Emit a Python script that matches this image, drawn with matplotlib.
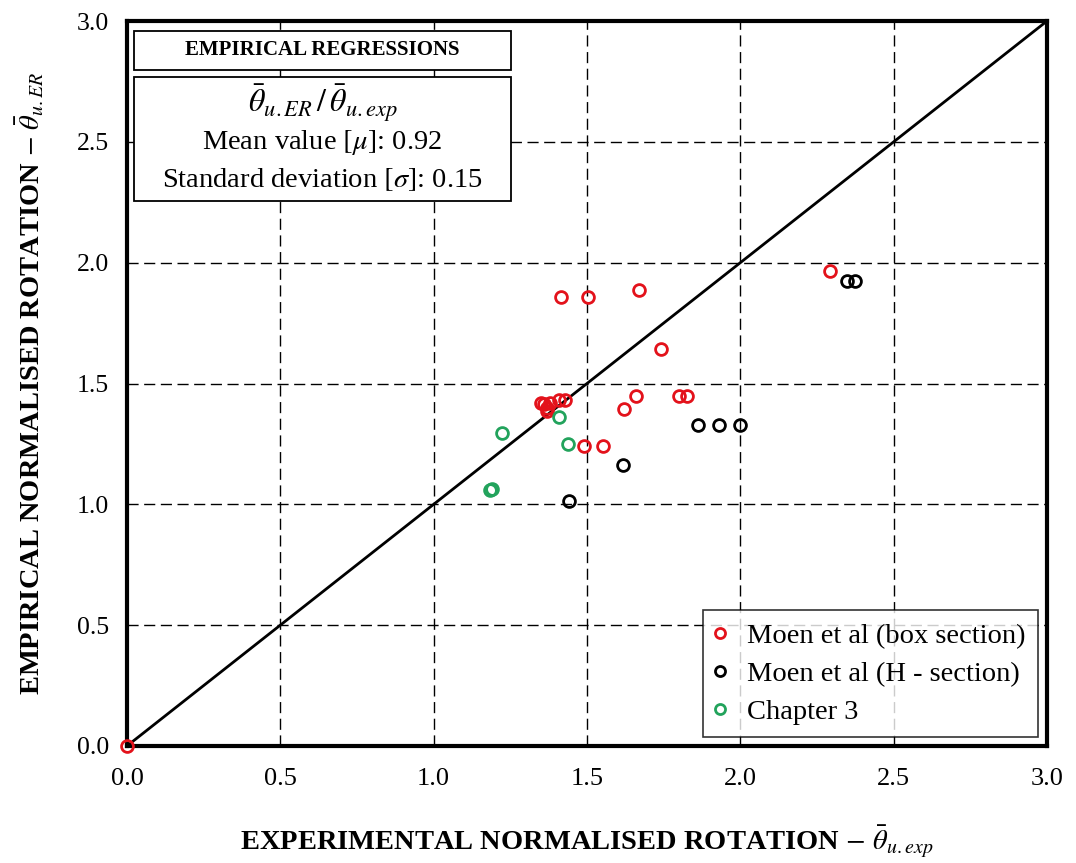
import matplotlib
matplotlib.use("Agg")
import matplotlib.pyplot as plt
from matplotlib.patches import Rectangle

plt.rcParams['font.family'] = ['Liberation Serif', 'DejaVu Serif']
plt.rcParams['mathtext.fontset'] = 'stix'

# Moen et al (box section)
box_x = [0.0, 1.415, 1.503, 1.670, 1.741, 1.660, 1.621, 1.800, 1.825,
         1.490, 1.553, 1.35, 1.36, 1.37, 1.38, 1.41, 1.43, 1.37, 2.293]
box_y = [0.0, 1.858, 1.858, 1.887, 1.643, 1.448, 1.394, 1.448, 1.448,
         1.240, 1.240, 1.420, 1.415, 1.400, 1.420, 1.432, 1.432, 1.385, 1.966]

# Moen et al (H - section)
h_x = [2.347, 2.374, 1.863, 1.931, 1.999, 1.619, 1.443]
h_y = [1.925, 1.925, 1.328, 1.328, 1.328, 1.163, 1.014]

# Chapter 3
ch3_x = [1.222, 1.410, 1.437, 1.184, 1.190]
ch3_y = [1.294, 1.360, 1.248, 1.059, 1.063]

ticks = [0.0, 0.5, 1.0, 1.5, 2.0, 2.5, 3.0]
mean_ratio = 0.92
std_ratio = 0.15

W, H = 1076, 863
AX_L, AX_B, AX_W, AX_H = 0.118, 0.1356, 0.855, 0.840

fig = plt.figure(figsize=(W / 100, H / 100), dpi=100)
ax = fig.add_axes([AX_L, AX_B, AX_W, AX_H])

ax.set_xlim(0, 3)
ax.set_ylim(0, 3)
ax.set_xticks(ticks)
ax.set_yticks(ticks)
ax.set_xticklabels([f"{t:.1f}" for t in ticks], fontsize=19)
ax.set_yticklabels([f"{t:.1f}" for t in ticks], fontsize=18.5)
ax.tick_params(axis='x', direction='in', length=0, pad=16)
ax.tick_params(axis='y', direction='in', length=0, pad=13)
ax.grid(True, color='black', linestyle=(0, (8, 4)), linewidth=1.0)
for s in ax.spines.values():
    s.set_linewidth(3)

ax.plot([0, 3], [0, 3], color='black', linewidth=2, zorder=2)

mk = dict(marker='o', linestyle='none', markersize=8.5, markeredgewidth=2,
          markerfacecolor='none', zorder=3, clip_on=False)
ax.plot(box_x, box_y, markeredgecolor='#e3121b', label='Moen et al (box section)', **mk)
ax.plot(h_x, h_y, markeredgecolor='black', label='Moen et al (H - section)', **mk)
ax.plot(ch3_x, ch3_y, markeredgecolor='#22a35c', label='Chapter 3', **mk)

leg = ax.legend(loc='lower right', fontsize=20.5, frameon=True, fancybox=False,
                edgecolor='black', borderaxespad=0.3, borderpad=0.45,
                handletextpad=0.8, labelspacing=0.42, handlelength=0.3,
                markerscale=0.85)
leg.get_frame().set_linewidth(1.2)

ax.set_xlabel(r'EXPERIMENTAL NORMALISED ROTATION $-$ $\bar{\theta}_{u.exp}$',
              fontsize=20.5, fontweight='bold', labelpad=24)
ax.set_ylabel(r'EMPIRICAL NORMALISED ROTATION $-$ $\bar{\theta}_{u.ER}$',
              fontsize=20.5, fontweight='bold', labelpad=22)


def px_rect(x0, y0, x1, y1):
    # axes-fraction rectangle from figure pixel bounds
    fx0 = (x0 / W - AX_L) / AX_W
    fx1 = (x1 / W - AX_L) / AX_W
    fy0 = ((1 - y1 / H) - AX_B) / AX_H
    fy1 = ((1 - y0 / H) - AX_B) / AX_H
    return fx0, fy0, fx1 - fx0, fy1 - fy0


for (a, b, c, d) in [(134, 31, 511, 70), (134, 77, 511, 201)]:
    fx, fy, fw, fh = px_rect(a, b, c, d)
    ax.add_patch(Rectangle((fx, fy), fw, fh, transform=ax.transAxes,
                           facecolor='white', edgecolor='black', linewidth=1.3, zorder=5))

b1 = px_rect(134, 31, 511, 70)
xc = b1[0] + b1[2] / 2
ax.text(xc, b1[1] + b1[3] / 2, 'EMPIRICAL REGRESSIONS', transform=ax.transAxes,
        fontsize=15, fontweight='bold', ha='center', va='center', zorder=6)

b2 = px_rect(134, 77, 511, 201)
ax.text(xc, b2[1] + b2[3] * 0.79, r'$\bar{\theta}_{u.ER}\,/\,\bar{\theta}_{u.exp}$',
        transform=ax.transAxes, fontsize=23, ha='center', va='center', zorder=6)
ax.text(xc, b2[1] + b2[3] * 0.475, r'Mean value $[\mu]$: ' + f'{mean_ratio:.2f}',
        transform=ax.transAxes, fontsize=20.5, ha='center', va='center', zorder=6)
ax.text(xc, b2[1] + b2[3] * 0.17, r'Standard deviation $[\sigma]$: ' + f'{std_ratio:.2f}',
        transform=ax.transAxes, fontsize=20.5, ha='center', va='center', zorder=6)

fig.savefig('out.png', dpi=100, facecolor='white')
